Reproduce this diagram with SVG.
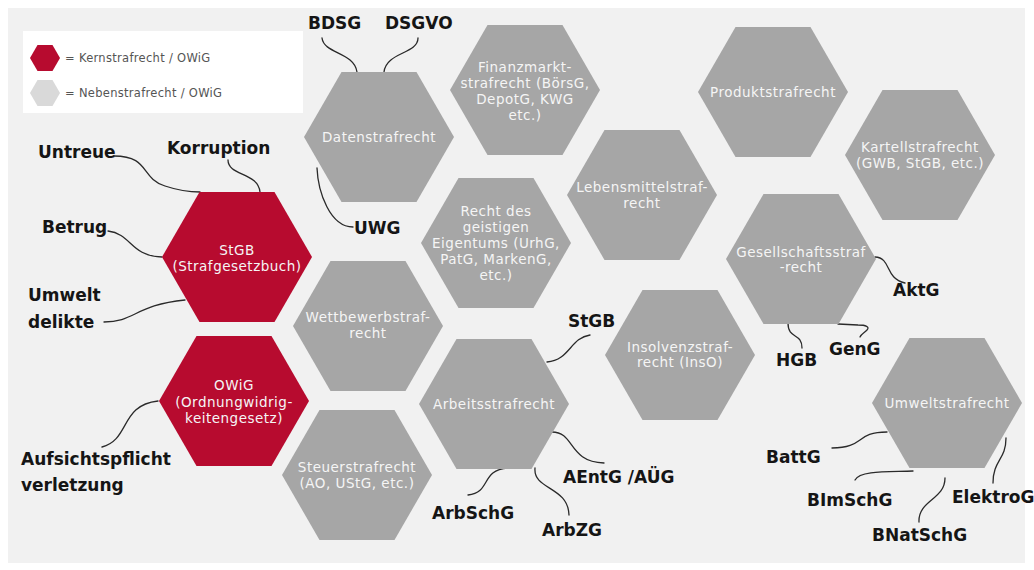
<svg xmlns="http://www.w3.org/2000/svg" xmlns:xlink="http://www.w3.org/1999/xlink" width="1034" height="570" viewBox="0 0 1034 570">
  <defs>
    <!-- flat-topped hexagon, radius 75 -->
    <path id="hex" d="M-75,0 L-37.5,-65 L37.5,-65 L75,0 L37.5,65 L-37.5,65 Z"/>
    <style>
      .core { fill: #b70b2f; }
      .side { fill: #a6a6a6; }
      .hx { font-family: "DejaVu Sans", "Liberation Sans", sans-serif; font-size: 13.5px; letter-spacing: 0.5px; fill: #f5f5f5; text-anchor: middle; }
      .lbl { font-family: "DejaVu Sans", "Liberation Sans", sans-serif; font-size: 17px; font-weight: bold; fill: #151515; }
      .leg { font-family: "DejaVu Sans", "Liberation Sans", sans-serif; font-size: 11.5px; letter-spacing: 0.3px; fill: #555555; }
      .wire { fill: none; stroke: #2a2a2a; stroke-width: 1.3; stroke-linecap: round; }
    </style>
  </defs>

  <rect x="0" y="0" width="1034" height="570" fill="#ffffff"/>
  <rect x="8" y="8" width="1017" height="555" fill="#f1f1f1"/>

  <!-- legend -->
  <g id="legend">
    <rect x="23" y="31" width="280" height="82" fill="#ffffff"/>
    <use xlink:href="#hex" href="#hex" transform="translate(45,58) scale(0.2)" fill="#b70b2f"/>
    <use xlink:href="#hex" href="#hex" transform="translate(45,93) scale(0.2)" fill="#d9d9d9"/>
    <text class="leg" x="65" y="62">= Kernstrafrecht / OWiG</text>
    <text class="leg" x="65" y="97">= Nebenstrafrecht / OWiG</text>
  </g>

  <!-- connectors between hexagons and their laws -->
  <g id="connectors">
    <path class="wire" d="M322,38 C324,54 354,52 357,72"/>
    <path class="wire" d="M418,38 C418,54 386,52 384,72"/>
    <path class="wire" d="M317,168 C318,192 330,227 353,227"/>
    <path class="wire" d="M114,156 C150,156 140,178 165,186 C180,191 190,192 200,192"/>
    <path class="wire" d="M228,160 C228,176 258,172 260,192"/>
    <path class="wire" d="M108,231 C132,234 130,256 162,257"/>
    <path class="wire" d="M104,322 C135,322 135,305 185,300"/>
    <path class="wire" d="M102,447 C130,440 120,405 158,401"/>
    <path class="wire" d="M590,335 C570,338 570,360 547,362"/>
    <path class="wire" d="M552,432 C575,432 568,462 604,463"/>
    <path class="wire" d="M535,468 C533,490 568,486 569,515"/>
    <path class="wire" d="M468,495 C492,492 480,470 508,468"/>
    <path class="wire" d="M875,257 C892,258 884,278 905,283"/>
    <path class="wire" d="M788,323 C788,340 802,332 802,348"/>
    <path class="wire" d="M838,324 L858,325 C866,325 870,327 867,330 C864,333 861,334 860,337"/>
    <path class="wire" d="M832,448 C865,448 855,432 887,432"/>
    <path class="wire" d="M855,480 C860,470 890,472 913,471"/>
    <path class="wire" d="M919,522 C918,500 945,500 945,478"/>
    <path class="wire" d="M993,483 C993,460 1006,460 1006,438"/>
  </g>

  <!-- core criminal law -->
  <g id="stgb" transform="translate(237,257)">
    <use xlink:href="#hex" href="#hex" class="core"/>
    <text class="hx" y="-2">StGB</text>
    <text class="hx" y="14">(Strafgesetzbuch)</text>
  </g>
  <g id="owig" transform="translate(234,401)">
    <use xlink:href="#hex" href="#hex" class="core"/>
    <text class="hx" y="-11">OWiG</text>
    <text class="hx" y="6">(Ordnungwidrig-</text>
    <text class="hx" y="22">keitengesetz)</text>
  </g>

  <!-- secondary criminal law -->
  <g id="datenstrafrecht" transform="translate(379,137)">
    <use xlink:href="#hex" href="#hex" class="side"/>
    <text class="hx" y="5">Datenstrafrecht</text>
  </g>
  <g id="wettbewerbstrafrecht" transform="translate(368,326)">
    <use xlink:href="#hex" href="#hex" class="side"/>
    <text class="hx" y="-4">Wettbewerbstraf-</text>
    <text class="hx" y="12">recht</text>
  </g>
  <g id="steuerstrafrecht" transform="translate(357,475)">
    <use xlink:href="#hex" href="#hex" class="side"/>
    <text class="hx" y="-3">Steuerstrafrecht</text>
    <text class="hx" y="13">(AO, UStG, etc.)</text>
  </g>
  <g id="finanzmarktstrafrecht" transform="translate(525,90)">
    <use xlink:href="#hex" href="#hex" class="side"/>
    <text class="hx" y="-18">Finanzmarkt-</text>
    <text class="hx" y="-2">strafrecht (BörsG,</text>
    <text class="hx" y="14">DepotG, KWG</text>
    <text class="hx" y="30">etc.)</text>
  </g>
  <g id="geistiges-eigentum" transform="translate(496,243)">
    <use xlink:href="#hex" href="#hex" class="side"/>
    <text class="hx" y="-27">Recht des</text>
    <text class="hx" y="-11">geistigen</text>
    <text class="hx" y="5">Eigentums (UrhG,</text>
    <text class="hx" y="21">PatG, MarkenG,</text>
    <text class="hx" y="37">etc.)</text>
  </g>
  <g id="arbeitsstrafrecht" transform="translate(494,404)">
    <use xlink:href="#hex" href="#hex" class="side"/>
    <text class="hx" y="5">Arbeitsstrafrecht</text>
  </g>
  <g id="lebensmittelstrafrecht" transform="translate(642,195)">
    <use xlink:href="#hex" href="#hex" class="side"/>
    <text class="hx" y="-3">Lebensmittelstraf-</text>
    <text class="hx" y="13">recht</text>
  </g>
  <g id="insolvenzstrafrecht" transform="translate(680,355)">
    <use xlink:href="#hex" href="#hex" class="side"/>
    <text class="hx" y="-3">Insolvenzstraf-</text>
    <text class="hx" y="12">recht (InsO)</text>
  </g>
  <g id="produktstrafrecht" transform="translate(773,92)">
    <use xlink:href="#hex" href="#hex" class="side"/>
    <text class="hx" y="5">Produktstrafrecht</text>
  </g>
  <g id="gesellschaftsstrafrecht" transform="translate(801,259)">
    <use xlink:href="#hex" href="#hex" class="side"/>
    <text class="hx" y="-2">Gesellschaftsstraf</text>
    <text class="hx" y="13">-recht</text>
  </g>
  <g id="kartellstrafrecht" transform="translate(920,155)">
    <use xlink:href="#hex" href="#hex" class="side"/>
    <text class="hx" y="-3">Kartellstrafrecht</text>
    <text class="hx" y="13">(GWB, StGB, etc.)</text>
  </g>
  <g id="umweltstrafrecht" transform="translate(947,403)">
    <use xlink:href="#hex" href="#hex" class="side"/>
    <text class="hx" y="5">Umweltstrafrecht</text>
  </g>

  <!-- law labels -->
  <g id="labels">
    <text class="lbl" x="308" y="29">BDSG</text>
    <text class="lbl" x="385" y="29">DSGVO</text>
    <text class="lbl" x="38" y="158">Untreue</text>
    <text class="lbl" x="167" y="154">Korruption</text>
    <text class="lbl" x="42" y="233">Betrug</text>
    <text class="lbl" x="28" y="301">Umwelt</text>
    <text class="lbl" x="28" y="328">delikte</text>
    <text class="lbl" x="21" y="465">Aufsichtspflicht</text>
    <text class="lbl" x="21" y="491">verletzung</text>
    <text class="lbl" x="354" y="234">UWG</text>
    <text class="lbl" x="568" y="327">StGB</text>
    <text class="lbl" x="563" y="483">AEntG /AÜG</text>
    <text class="lbl" x="432" y="519">ArbSchG</text>
    <text class="lbl" x="542" y="536">ArbZG</text>
    <text class="lbl" x="893" y="296">AktG</text>
    <text class="lbl" x="776" y="366">HGB</text>
    <text class="lbl" x="829" y="355">GenG</text>
    <text class="lbl" x="766" y="463">BattG</text>
    <text class="lbl" x="807" y="506">BImSchG</text>
    <text class="lbl" x="872" y="541">BNatSchG</text>
    <text class="lbl" x="952" y="503">ElektroG</text>
  </g>
</svg>
